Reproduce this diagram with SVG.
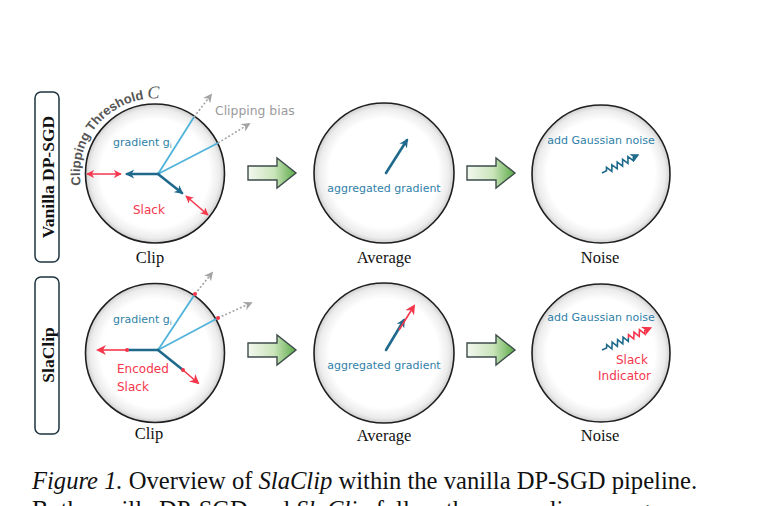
<svg xmlns="http://www.w3.org/2000/svg" width="760" height="506" viewBox="0 0 760 506">
<style>
.ball{fill:url(#ballGrad);stroke:#1f1f1f;stroke-width:1.6}
.lbl{font-family:"Liberation Serif","Times New Roman",serif;font-size:16.5px;fill:#111;text-anchor:middle}
.side{font-family:"Liberation Serif","Times New Roman",serif;font-size:17.5px;font-weight:bold;fill:#111;text-anchor:middle}
.sbox{fill:#fff;stroke:#1d3340;stroke-width:1.5}
.s{font-family:"DejaVu Sans","Liberation Sans",sans-serif}
.tb{fill:#2f7fa8;font-size:11px}
.tr{fill:#f5364b;font-size:12px}
.tg{fill:#9a9a9a;font-size:12.4px}
.vd{stroke:#1f6a8c;stroke-width:2.6;fill:none;stroke-linecap:round}
.vl{stroke:#4fb3da;stroke-width:1.8;fill:none}
.vr{stroke:#f5364b;stroke-width:1.6;fill:none}
.vg{stroke:#a3a3a3;stroke-width:1.6;fill:none;stroke-dasharray:2 2}
.zb{stroke:#1f6a8c;stroke-width:1.6;fill:none;stroke-linejoin:miter}
.zr{stroke:#f5364b;stroke-width:1.6;fill:none}
.rd{fill:#f5364b}
.garrow{fill:url(#greenGrad);stroke:#3d4b4b;stroke-width:1.4;stroke-linejoin:miter}
.cap{font-family:"Liberation Serif","Times New Roman",serif;font-size:24.6px;fill:#111}
</style>
<defs>
<radialGradient id="ballGrad" cx="0.5" cy="0.5" r="0.5">
<stop offset="0" stop-color="#ffffff"/>
<stop offset="0.78" stop-color="#ffffff"/>
<stop offset="0.93" stop-color="#ececec"/>
<stop offset="1" stop-color="#cfcfcf"/>
</radialGradient>
<linearGradient id="greenGrad" x1="0" y1="0" x2="1" y2="0">
<stop offset="0" stop-color="#f3f8ef"/>
<stop offset="0.55" stop-color="#c9e4b9"/>
<stop offset="1" stop-color="#5aa946"/>
</linearGradient>
<marker id="mB" viewBox="0 0 10 10" refX="8" refY="5" markerWidth="9" markerHeight="9" markerUnits="userSpaceOnUse" orient="auto">
<path d="M0,0 L10,5 L0,10 L3,5 Z" fill="#1f6a8c"/>
</marker>
<marker id="mR" viewBox="0 0 10 10" refX="9" refY="5" markerWidth="8" markerHeight="8" markerUnits="userSpaceOnUse" orient="auto-start-reverse">
<path d="M0,0 L10,5 L0,10 L3,5 Z" fill="#f5364b"/>
</marker>
<marker id="mRb" viewBox="0 0 10 10" refX="8" refY="5" markerWidth="10" markerHeight="10" markerUnits="userSpaceOnUse" orient="auto">
<path d="M0,0 L10,5 L0,10 L3,5 Z" fill="#f5364b"/>
</marker>
<marker id="mG" viewBox="0 0 10 10" refX="8" refY="5" markerWidth="9" markerHeight="9" markerUnits="userSpaceOnUse" orient="auto">
<path d="M0,0 L10,5 L0,10 L3,5 Z" fill="#a3a3a3"/>
</marker>
<path id="arcC" d="M80.9,185.3 A75,75 0 0 1 192.5,108.5" fill="none"/>
</defs>

<g id="label-vanilla">
<rect class="sbox" x="35" y="92" width="24" height="170" rx="6"/>
<text class="side" transform="translate(53.5,177) rotate(-90)">Vanilla DP-SGD</text>
</g>
<g id="label-slaclip">
<rect class="sbox" x="35" y="277" width="24" height="157" rx="6"/>
<text class="side" transform="translate(53.5,355) rotate(-90)">SlaClip</text>
</g>

<g id="node-clip-vanilla">
<circle class="ball" cx="155" cy="173.5" r="69.5"/>
<text font-family="Liberation Sans, Arial, sans-serif" font-size="13" font-weight="bold" fill="#555"><textPath href="#arcC">Clipping Threshold <tspan font-family="Liberation Serif, serif" font-style="italic" font-weight="normal" font-size="18">C</tspan></textPath></text>
<line class="vl" x1="158" y1="174" x2="194" y2="117"/>
<line class="vg" x1="194" y1="117" x2="211" y2="95" marker-end="url(#mG)"/>
<line class="vl" x1="158" y1="174" x2="218" y2="143"/>
<line class="vg" x1="218" y1="143" x2="249" y2="124" marker-end="url(#mG)"/>
<line class="vd" x1="158" y1="174" x2="127" y2="174" marker-end="url(#mB)"/>
<line class="vd" x1="158" y1="174" x2="182" y2="193" marker-end="url(#mB)"/>
<line class="vr" x1="87" y1="174" x2="121" y2="174" marker-start="url(#mR)" marker-end="url(#mR)"/>
<line class="vr" x1="186" y1="196" x2="208" y2="215" marker-start="url(#mR)" marker-end="url(#mR)"/>
<text class="s tg" x="215" y="115">Clipping bias</text>
<text class="s tb" x="113" y="146">gradient g<tspan font-size="7" dy="2">i</tspan></text>
<text class="s tr" x="133" y="214">Slack</text>
<text class="lbl" x="150" y="263">Clip</text>
</g>

<g id="node-average-vanilla">
<circle class="ball" cx="384" cy="173" r="70"/>
<line class="vd" x1="386" y1="173" x2="407" y2="140" marker-end="url(#mB)"/>
<text class="s tb" x="384" y="192" text-anchor="middle">aggregated gradient</text>
<text class="lbl" x="384" y="263">Average</text>
</g>

<g id="node-noise-vanilla">
<circle class="ball" cx="601" cy="174" r="69"/>
<text class="s tb" x="601" y="144" text-anchor="middle">add Gaussian noise</text>
<g transform="translate(602,173) rotate(-26.5)">
<path class="zb" d="M0,0 L5,0 L6.5,-3 L9.5,3 L12.5,-3 L15.5,3 L18.5,-3 L21.5,3 L24.5,-3 L27.5,3 L30.5,-3 L33.5,3 L35,0 L40,0" marker-end="url(#mB)"/>
</g>
<text class="lbl" x="600" y="263">Noise</text>
</g>

<g id="node-clip-slaclip">
<circle class="ball" cx="155" cy="353" r="69.5"/>
<line class="vl" x1="158" y1="350" x2="195" y2="294"/>
<line class="vg" x1="195" y1="294" x2="212" y2="273" marker-end="url(#mG)"/>
<line class="vl" x1="158" y1="350" x2="218" y2="318"/>
<line class="vg" x1="218" y1="318" x2="251" y2="303" marker-end="url(#mG)"/>
<line class="vd" x1="158" y1="350" x2="127" y2="350"/>
<line class="vd" x1="158" y1="350" x2="183" y2="370"/>
<line class="vr" x1="127" y1="350" x2="98" y2="350" marker-end="url(#mRb)"/>
<line class="vr" x1="183" y1="370" x2="198" y2="383" marker-end="url(#mRb)"/>
<circle class="rd" cx="127" cy="350" r="2"/>
<circle class="rd" cx="183" cy="370" r="2"/>
<circle class="rd" cx="195" cy="294" r="2"/>
<circle class="rd" cx="218" cy="318" r="2"/>
<text class="s tb" x="113" y="323">gradient g<tspan font-size="7" dy="2">i</tspan></text>
<text class="s tr" x="117" y="373">Encoded</text>
<text class="s tr" x="117" y="391">Slack</text>
<text class="lbl" x="149" y="439">Clip</text>
</g>

<g id="node-average-slaclip">
<circle class="ball" cx="384" cy="353" r="70"/>
<line class="vd" x1="386" y1="350" x2="404" y2="320" marker-end="url(#mB)"/>
<line class="vr" x1="399" y1="330" x2="414" y2="306" marker-end="url(#mRb)"/>
<text class="s tb" x="384" y="369" text-anchor="middle">aggregated gradient</text>
<text class="lbl" x="384" y="441">Average</text>
</g>

<g id="node-noise-slaclip">
<circle class="ball" cx="601" cy="353" r="69"/>
<text class="s tb" x="601" y="321" text-anchor="middle">add Gaussian noise</text>
<g transform="translate(602,350) rotate(-24.4)">
<path class="zb" d="M0,0 L5,0 L6.5,-3 L9.5,3 L12.5,-3 L15.5,3 L18.5,-3 L21.5,3 L24.5,-3 L27.5,3 L29,0"/>
<path class="zr" d="M29,0 L30.5,-3 L33.5,3 L36.5,-3 L39.5,3 L42.5,-3 L45.5,3 L47,0 L53,0" marker-end="url(#mRb)"/>
</g>
<text class="s tr" x="616" y="364">Slack</text>
<text class="s tr" x="598" y="380">Indicator</text>
<text class="lbl" x="600" y="441">Noise</text>
</g>

<g id="connectors">
<path class="garrow" d="M248,166 L277,166 L277,158 L296,173 L277,188 L277,180 L248,180 Z"/>
<path class="garrow" d="M467,166 L496,166 L496,158 L515,173 L496,188 L496,180 L467,180 Z"/>
<path class="garrow" d="M248,343 L277,343 L277,335 L296,350 L277,365 L277,357 L248,357 Z"/>
<path class="garrow" d="M467,343 L496,343 L496,335 L515,350 L496,365 L496,357 L467,357 Z"/>
</g>

<g id="caption">
<text class="cap" x="32" y="489"><tspan font-style="italic">Figure 1.</tspan> Overview of <tspan font-style="italic">SlaClip</tspan> within the vanilla DP-SGD pipeline.</text>
<text class="cap" x="32" y="518">Both vanilla DP-SGD and <tspan font-style="italic">SlaClip</tspan> follow the same clip-average</text>
</g>
</svg>
